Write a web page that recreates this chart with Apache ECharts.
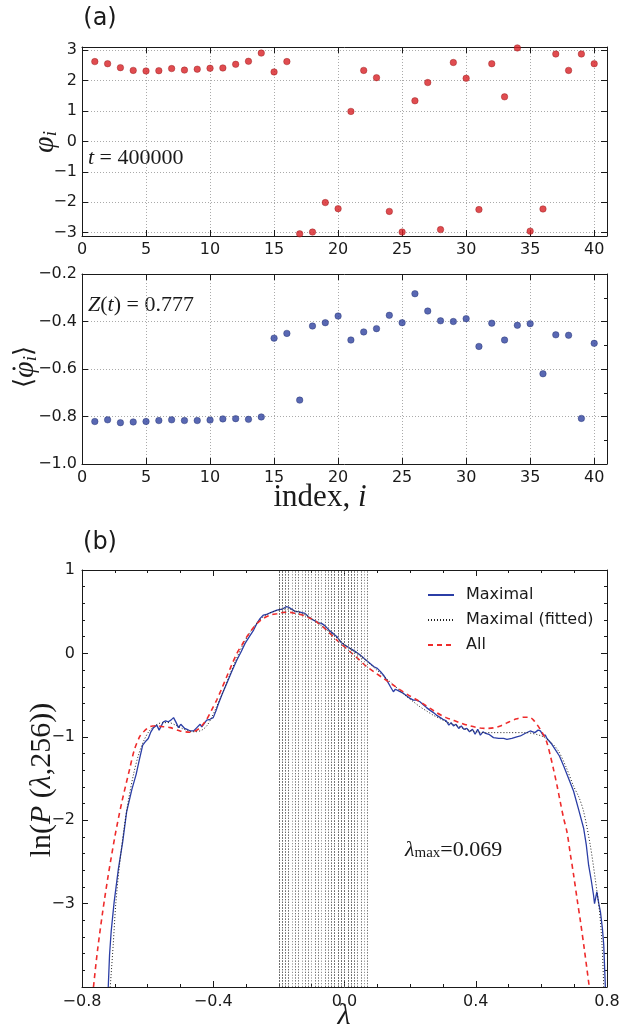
<!DOCTYPE html>
<html><head><meta charset="utf-8">
<script src="https://cdn.jsdelivr.net/npm/echarts@6/dist/echarts.min.js"></script>
<style>html,body{margin:0;padding:0;background:#fff}#c{width:631px;height:1029px}</style>
</head><body><div id="c"></div>
<script>
// ---- data ----
const indexValues = [1,2,3,4,5,6,7,8,9,10,11,12,13,14,15,16,17,18,19,20,21,22,23,24,25,26,27,28,29,30,31,32,33,34,35,36,37,38,39,40];
const phiValues = [2.63,2.56,2.43,2.34,2.32,2.33,2.40,2.35,2.38,2.41,2.42,2.54,2.64,2.91,2.29,2.63,-3.04,-2.98,-2.01,-2.21,0.99,2.34,2.10,-2.30,-2.98,1.34,1.94,-2.90,2.60,2.08,-2.24,2.56,1.47,3.08,-2.95,-2.22,2.88,2.34,2.88,2.56];
const phiDotValues = [-0.821,-0.814,-0.826,-0.823,-0.821,-0.817,-0.814,-0.817,-0.817,-0.815,-0.810,-0.809,-0.812,-0.802,-0.470,-0.450,-0.731,-0.419,-0.405,-0.377,-0.478,-0.444,-0.430,-0.374,-0.405,-0.283,-0.356,-0.397,-0.400,-0.388,-0.505,-0.407,-0.478,-0.416,-0.409,-0.620,-0.456,-0.458,-0.808,-0.492];
const phiTicks = [-3,-2,-1,0,1,2,3];

const maximalLambda = [-0.720,-0.716,-0.711,-0.702,-0.689,-0.676,-0.664,-0.648,-0.635,-0.625,-0.615,-0.605,-0.598,-0.590,-0.582,-0.572,-0.565,-0.560,-0.552,-0.545,-0.537,-0.529,-0.521,-0.513,-0.506,-0.499,-0.493,-0.487,-0.480,-0.470,-0.460,-0.450,-0.440,-0.435,-0.430,-0.420,-0.410,-0.400,-0.392,-0.384,-0.372,-0.359,-0.344,-0.328,-0.315,-0.303,-0.290,-0.277,-0.267,-0.257,-0.247,-0.235,-0.225,-0.206,-0.190,-0.178,-0.171,-0.160,-0.150,-0.140,-0.130,-0.120,-0.110,-0.100,-0.090,-0.080,-0.070,-0.059,-0.045,-0.035,-0.023,-0.010,0.000,0.017,0.030,0.048,0.060,0.078,0.090,0.100,0.110,0.119,0.130,0.140,0.149,0.155,0.165,0.180,0.190,0.200,0.210,0.220,0.230,0.241,0.250,0.260,0.271,0.280,0.292,0.300,0.310,0.318,0.325,0.332,0.340,0.348,0.356,0.364,0.373,0.381,0.390,0.398,0.406,0.414,0.422,0.430,0.440,0.454,0.470,0.485,0.495,0.510,0.525,0.536,0.550,0.566,0.580,0.590,0.597,0.605,0.612,0.617,0.630,0.642,0.655,0.668,0.683,0.698,0.714,0.729,0.737,0.744,0.752,0.759,0.762,0.769,0.775,0.780,0.786,0.790,0.795];
const maximalLnP = [-4.00,-3.61,-3.33,-2.98,-2.58,-2.26,-1.90,-1.63,-1.45,-1.27,-1.10,-1.05,-1.02,-0.94,-0.89,-0.86,-0.92,-0.93,-0.82,-0.81,-0.82,-0.80,-0.77,-0.83,-0.89,-0.85,-0.85,-0.90,-0.91,-0.93,-0.93,-0.89,-0.85,-0.88,-0.89,-0.80,-0.79,-0.77,-0.69,-0.60,-0.48,-0.36,-0.22,-0.08,0.02,0.12,0.20,0.28,0.36,0.42,0.46,0.47,0.49,0.52,0.53,0.56,0.555,0.53,0.50,0.50,0.49,0.48,0.44,0.41,0.39,0.37,0.36,0.33,0.27,0.24,0.20,0.13,0.10,0.06,0.03,-0.02,-0.06,-0.12,-0.16,-0.18,-0.22,-0.26,-0.33,-0.40,-0.46,-0.43,-0.45,-0.48,-0.51,-0.54,-0.56,-0.56,-0.58,-0.62,-0.65,-0.68,-0.71,-0.74,-0.77,-0.79,-0.81,-0.86,-0.83,-0.87,-0.85,-0.90,-0.87,-0.91,-0.90,-0.94,-0.91,-0.97,-0.91,-0.98,-0.94,-0.96,-0.97,-1.01,-1.02,-1.02,-1.03,-1.02,-1.00,-0.99,-0.96,-0.93,-0.95,-0.92,-0.93,-0.98,-0.98,-1.02,-1.08,-1.15,-1.23,-1.35,-1.50,-1.65,-1.88,-2.10,-2.30,-2.54,-2.72,-2.90,-3.00,-2.86,-3.00,-3.10,-3.30,-3.49,-4.00];

const fittedLambda = [-0.714,-0.705,-0.697,-0.686,-0.672,-0.658,-0.643,-0.628,-0.612,-0.595,-0.575,-0.555,-0.535,-0.515,-0.495,-0.475,-0.455,-0.435,-0.420,-0.405,-0.390,-0.370,-0.350,-0.330,-0.310,-0.290,-0.270,-0.250,-0.230,-0.210,-0.190,-0.170,-0.150,-0.130,-0.110,-0.090,-0.070,-0.050,-0.030,-0.010,0.010,0.030,0.050,0.070,0.090,0.110,0.130,0.150,0.170,0.190,0.210,0.230,0.250,0.270,0.290,0.310,0.330,0.350,0.370,0.390,0.410,0.430,0.450,0.500,0.550,0.600,0.630,0.652,0.675,0.698,0.715,0.729,0.749,0.764,0.777,0.785,0.790];
const fittedLnP = [-4.00,-3.50,-3.00,-2.55,-2.10,-1.75,-1.45,-1.22,-1.05,-0.93,-0.86,-0.83,-0.83,-0.86,-0.90,-0.93,-0.94,-0.92,-0.87,-0.77,-0.64,-0.46,-0.26,-0.07,0.10,0.24,0.35,0.43,0.48,0.51,0.53,0.53,0.51,0.48,0.44,0.39,0.33,0.27,0.21,0.14,0.08,0.02,-0.04,-0.10,-0.17,-0.24,-0.31,-0.38,-0.45,-0.52,-0.58,-0.64,-0.69,-0.74,-0.78,-0.82,-0.85,-0.88,-0.91,-0.93,-0.945,-0.95,-0.95,-0.95,-0.95,-0.99,-1.07,-1.17,-1.36,-1.59,-1.73,-1.90,-2.30,-2.70,-3.09,-3.50,-4.00];

const allLambda = [-0.765,-0.753,-0.737,-0.720,-0.699,-0.679,-0.655,-0.640,-0.623,-0.610,-0.598,-0.585,-0.572,-0.550,-0.531,-0.501,-0.470,-0.455,-0.440,-0.420,-0.405,-0.389,-0.374,-0.359,-0.344,-0.328,-0.313,-0.298,-0.283,-0.267,-0.247,-0.226,-0.206,-0.176,-0.150,-0.125,-0.104,-0.084,-0.055,-0.023,0.017,0.040,0.068,0.093,0.119,0.145,0.170,0.195,0.220,0.250,0.282,0.310,0.330,0.353,0.383,0.414,0.434,0.454,0.475,0.495,0.520,0.546,0.562,0.576,0.597,0.608,0.617,0.627,0.637,0.648,0.658,0.668,0.678,0.688,0.698,0.709,0.719,0.731,0.746];
const allLnP = [-4.00,-3.57,-3.10,-2.66,-2.18,-1.79,-1.39,-1.15,-0.99,-0.93,-0.89,-0.87,-0.87,-0.88,-0.89,-0.93,-0.945,-0.93,-0.89,-0.79,-0.68,-0.556,-0.42,-0.28,-0.14,0.00,0.10,0.198,0.28,0.357,0.42,0.46,0.476,0.495,0.48,0.456,0.42,0.376,0.28,0.158,0.02,-0.06,-0.16,-0.23,-0.30,-0.37,-0.437,-0.50,-0.556,-0.63,-0.714,-0.77,-0.80,-0.833,-0.87,-0.895,-0.90,-0.893,-0.87,-0.833,-0.79,-0.765,-0.765,-0.80,-0.913,-0.99,-1.07,-1.22,-1.39,-1.59,-1.79,-1.98,-2.14,-2.40,-2.65,-2.95,-3.21,-3.55,-4.00];

const eigenLambdas = [-0.205,-0.203,-0.201,-0.199,-0.197,-0.195,-0.193,-0.191,-0.189,-0.187,-0.185,-0.182,-0.179,-0.175,-0.170,-0.165,-0.160,-0.154,-0.148,-0.142,-0.136,-0.130,-0.124,-0.118,-0.112,-0.106,-0.100,-0.094,-0.088,-0.082,-0.076,-0.070,-0.064,-0.058,-0.053,-0.048,-0.044,-0.040,-0.036,-0.033,-0.030,-0.028,-0.026,-0.024,-0.022,-0.020,-0.018,-0.016,-0.014,-0.012,-0.010,-0.008,-0.006,-0.004,-0.002,0.000,0.002,0.004,0.006,0.008,0.010,0.012,0.014,0.016,0.018,0.020,0.022,0.024,0.026,0.029,0.032,0.036,0.041,0.047,0.053,0.060,0.065,0.069];

const lambdaMaxText = '0.069';
const timeText = '400000';
const zText = '0.777';

// ---- helpers ----
const pair = (xs, ys) => xs.map((x, i) => [x, ys[i]]);
const minus = s => String(s).replace('-', '\u2212');
const ink = '#1a1a1a';
const tickFont = {fontFamily: 'DejaVu Sans', fontSize: 16, color: ink};
const serif = 'Liberation Serif';

function axis(gridIndex, position, o) {
  const main = (position === 'bottom' || position === 'left');
  return Object.assign({
    type: 'value', gridIndex: gridIndex, position: position,
    axisLine: {show: true, onZero: false, lineStyle: {color: ink, width: 1}},
    axisTick: Object.assign({show: true, inside: true, length: 6, lineStyle: {color: ink, width: 1}}, o.tick || {}),
    minorTick: o.minor ? {show: true, splitNumber: o.minor, length: 3, lineStyle: {color: ink, width: 1}} : {show: false},
    axisLabel: Object.assign({show: main, margin: 6}, tickFont, o.label || {}),
    splitLine: (main && o.grid) ? {show: true, lineStyle: {type: [1, 2], color: '#aaa', width: 1}} : {show: false}
  }, o.range);
}

const idxFmt = v => (v % 5 === 0 ? String(v) : '');
const phiFmt = v => (Number.isInteger(v) ? minus(v) : '');
const dotFmt = v => minus(v.toFixed(1));
const lamFmt = v => minus(v.toFixed(1));
const lnFmt = v => (v > -3.5 ? minus(Math.round(v)) : '');

const xRangeA = {min: 0, max: 41, interval: 5};
const yRangePhi = {min: -3.11, max: 3.11, splitNumber: 6};
const yRangeDot = {min: -1, max: -0.2, interval: 0.2};
const xRangeB = {min: -0.8, max: 0.8, interval: 0.4};
const yRangeB = {min: -4, max: 1, interval: 1};

const chart = echarts.init(document.getElementById('c'), null, {renderer: 'canvas'});
chart.setOption({
  animation: false,
  backgroundColor: '#fff',
  grid: [
    {left: 82, top: 47, width: 525, height: 189},
    {left: 82, top: 274, width: 525, height: 190},
    {left: 82, top: 570, width: 525, height: 417}
  ],
  xAxis: [
    axis(0, 'bottom', {range: xRangeA, grid: true, label: {formatter: idxFmt}}),
    axis(0, 'top', {range: xRangeA}),
    axis(1, 'bottom', {range: xRangeA, grid: true, label: {formatter: idxFmt}}),
    axis(1, 'top', {range: xRangeA}),
    axis(2, 'bottom', {range: xRangeB, minor: 4, label: {formatter: lamFmt, margin: 7}}),
    axis(2, 'top', {range: xRangeB, minor: 4})
  ],
  yAxis: [
    axis(0, 'left', {range: yRangePhi, grid: true, tick: {customValues: phiTicks}, label: {formatter: phiFmt, customValues: phiTicks, margin: 5}}),
    axis(0, 'right', {range: yRangePhi, tick: {customValues: phiTicks}}),
    axis(1, 'left', {range: yRangeDot, grid: true, label: {formatter: dotFmt, margin: 5}}),
    axis(1, 'right', {range: yRangeDot, minor: 2}),
    axis(2, 'left', {range: yRangeB, minor: 5, label: {formatter: lnFmt, margin: 7}}),
    axis(2, 'right', {range: yRangeB, minor: 5})
  ],
  legend: {
    data: ['Maximal', 'Maximal (fitted)', 'All'],
    orient: 'vertical', left: 422, top: 582,
    itemWidth: 26, itemHeight: 14, itemGap: 9,
    itemStyle: {opacity: 0},
    textStyle: {fontFamily: 'DejaVu Sans', fontSize: 16, color: ink, padding: [0, 0, 0, 7]}
  },
  series: [
    {type: 'scatter', name: 'phi', xAxisIndex: 0, yAxisIndex: 0, symbolSize: 6.5,
     itemStyle: {color: '#d81f24', borderColor: '#901515', borderWidth: 0.5},
     data: pair(indexValues, phiValues), silent: true, z: 5},
    {type: 'scatter', name: 'phidot', xAxisIndex: 2, yAxisIndex: 2, symbolSize: 6.5,
     itemStyle: {color: '#2f42a0', borderColor: '#1c2a6a', borderWidth: 0.5},
     data: pair(indexValues, phiDotValues), silent: true, z: 5},
    {type: 'line', name: 'eig', xAxisIndex: 4, yAxisIndex: 4, data: [], symbol: 'none', silent: true, z: 1,
     markLine: {silent: true, symbol: ['none', 'none'], animation: false, label: {show: false},
       lineStyle: {type: [1.2, 1.6], color: '#666', width: 0.7},
       emphasis: {disabled: true},
       data: eigenLambdas.map(v => ({xAxis: v}))}},
    {type: 'line', name: 'Maximal', xAxisIndex: 4, yAxisIndex: 4, symbol: 'none', showSymbol: false,
     lineStyle: {color: '#2b3ea6', width: 1.3}, itemStyle: {color: '#2b3ea6'},
     data: pair(maximalLambda, maximalLnP), z: 3},
    {type: 'line', name: 'Maximal (fitted)', xAxisIndex: 4, yAxisIndex: 4, symbol: 'none', showSymbol: false, smooth: 0.3,
     lineStyle: {color: '#222', width: 1, type: [1, 2]}, itemStyle: {color: '#222'},
     data: pair(fittedLambda, fittedLnP), z: 3},
    {type: 'line', name: 'All', xAxisIndex: 4, yAxisIndex: 4, symbol: 'none', showSymbol: false, smooth: 0.3,
     lineStyle: {color: '#ee2b2b', width: 1.6, type: [5, 4]}, itemStyle: {color: '#ee2b2b'},
     data: pair(allLambda, allLnP), z: 4}
  ],
  graphic: [
    {type: 'text', x: 100, y: 19, style: {text: '(a)', fontFamily: 'DejaVu Sans', fontSize: 24, fill: ink, align: 'center', verticalAlign: 'middle'}},
    {type: 'text', x: 100, y: 543, style: {text: '(b)', fontFamily: 'DejaVu Sans', fontSize: 24, fill: ink, align: 'center', verticalAlign: 'middle'}},
    {type: 'text', x: 45, y: 142, rotation: Math.PI / 2, style: {
      text: '{v|φ}{s|i}', align: 'center', verticalAlign: 'middle',
      rich: {v: {fontFamily: serif, fontStyle: 'italic', fontSize: 30, fill: ink},
             s: {fontFamily: serif, fontStyle: 'italic', fontSize: 19, fill: ink, verticalAlign: 'bottom'}}}},
    {type: 'group', x: 25, y: 367, rotation: Math.PI / 2, children: [
      {type: 'text', x: 0, y: 0, style: {
        text: '{r|\u27E8}{v|φ}{s|i}{r|\u27E9}', align: 'center', verticalAlign: 'middle',
        rich: {r: {fontFamily: 'DejaVu Serif', fontSize: 26, fill: ink},
               v: {fontFamily: serif, fontStyle: 'italic', fontSize: 30, fill: ink},
               s: {fontFamily: serif, fontStyle: 'italic', fontSize: 19, fill: ink, verticalAlign: 'bottom'}}}},
      {type: 'circle', shape: {cx: -1.5, cy: -11, r: 1.6}, style: {fill: ink}}
    ]},
    {type: 'text', x: 88, y: 158, style: {
      text: '{i|t}{r| = ' + timeText + '}', align: 'left', verticalAlign: 'middle',
      rich: {i: {fontFamily: serif, fontStyle: 'italic', fontSize: 22, fill: ink},
             r: {fontFamily: serif, fontSize: 22, fill: ink}}}},
    {type: 'text', x: 88, y: 305, style: {
      text: '{i|Z}{r|(}{i|t}{r|) = ' + zText + '}', align: 'left', verticalAlign: 'middle',
      rich: {i: {fontFamily: serif, fontStyle: 'italic', fontSize: 22, fill: ink},
             r: {fontFamily: serif, fontSize: 22, fill: ink}}}},
    {type: 'text', x: 320, y: 498, style: {
      text: '{r|index, }{i|i}', align: 'center', verticalAlign: 'middle',
      rich: {i: {fontFamily: serif, fontStyle: 'italic', fontSize: 31, fill: ink},
             r: {fontFamily: serif, fontSize: 31, fill: ink}}}},
    {type: 'text', x: 42, y: 780, rotation: Math.PI / 2, style: {
      text: '{r|ln(}{i|P}{r| (}{i|λ}{r|,256))}', align: 'center', verticalAlign: 'middle',
      rich: {i: {fontFamily: serif, fontStyle: 'italic', fontSize: 30, fill: ink},
             r: {fontFamily: serif, fontSize: 30, fill: ink}}}},
    {type: 'text', x: 344, y: 1016, style: {
      text: 'λ', fontFamily: serif, fontStyle: 'italic', fontSize: 30, fill: ink, align: 'center', verticalAlign: 'middle'}},
    {type: 'text', x: 405, y: 850, style: {
      text: '{i|λ}{s|max}{r|=' + lambdaMaxText + '}', align: 'left', verticalAlign: 'middle',
      rich: {i: {fontFamily: serif, fontStyle: 'italic', fontSize: 22, fill: ink},
             s: {fontFamily: serif, fontSize: 15, fill: ink, verticalAlign: 'bottom'},
             r: {fontFamily: serif, fontSize: 22, fill: ink}}}}
  ]
});
</script></body></html>
